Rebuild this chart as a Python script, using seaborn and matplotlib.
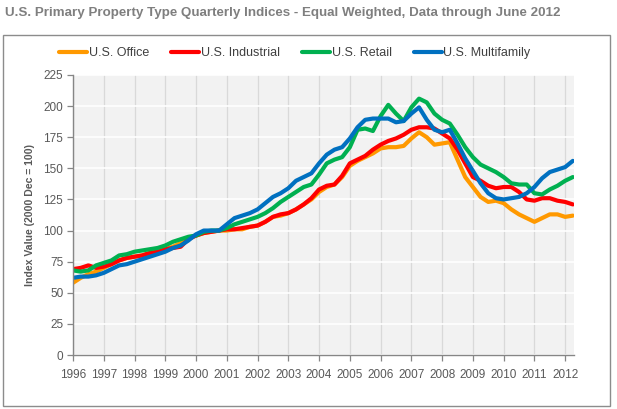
import numpy as np
import pandas as pd
import seaborn as sns
import matplotlib.pyplot as plt
from matplotlib.patches import Rectangle

# quarterly index values, 1996 Q1 .. 2012 Q2 (66 quarters)
office = [58, 62, 65, 67, 70, 73, 76, 78, 79, 80, 82, 83, 85, 87, 90, 94,
          96, 98, 99, 100, 100, 101, 101, 103, 104, 107, 111, 112, 114, 117, 121, 125,
          131, 135, 137, 143, 152, 156, 159, 162, 166, 167, 167, 168, 174, 179, 175, 169,
          170, 171, 157, 143, 135, 127, 123, 124, 122, 117, 113, 110, 107, 110, 113, 113,
          111, 112]
industrial = [69, 70, 72, 70, 71, 73, 76, 78, 79, 80, 82, 83, 85, 86, 87, 93,
              96, 98, 99, 100, 101, 101, 102, 103, 104, 107, 111, 113, 114, 117, 121, 126,
              133, 136, 137, 144, 154, 157, 160, 165, 169, 172, 174, 177, 181, 183, 183, 182,
              178, 174, 165, 154, 143, 140, 136, 134, 135, 135, 131, 125, 124, 126, 126, 124,
              123, 121]
retail = [68, 67, 68, 72, 74, 76, 80, 81, 83, 84, 85, 86, 88, 91, 93, 95,
          96, 99, 100, 100, 102, 105, 107, 109, 111, 114, 118, 123, 127, 131, 135, 137,
          145, 154, 157, 159, 167, 181, 182, 180, 192, 201, 194, 188, 199, 206, 203, 194,
          189, 186, 177, 167, 159, 153, 150, 147, 143, 138, 137, 137, 130, 129, 133, 136,
          140, 143]
multifamily = [62, 63, 63, 64, 66, 69, 72, 73, 75, 77, 79, 81, 83, 86, 88, 92,
               97, 100, 100, 100, 105, 110, 112, 114, 117, 122, 127, 130, 134, 140, 143, 146,
               154, 161, 165, 167, 174, 183, 189, 190, 190, 190, 187, 188, 194, 199, 189, 181,
               179, 181, 170, 158, 148, 138, 130, 126, 125, 126, 127, 130, 135, 142, 147, 149,
               151, 156]

series_names = ["U.S. Office", "U.S. Industrial", "U.S. Retail", "U.S. Multifamily"]
series_colors = ["#FF9900", "#FF0000", "#00B050", "#0070C0"]
years = list(range(1996, 2013))

quarter = np.arange(len(office))
df = pd.DataFrame({"q": quarter, "U.S. Office": office, "U.S. Industrial": industrial,
                   "U.S. Retail": retail, "U.S. Multifamily": multifamily})
long_df = df.melt(id_vars="q", var_name="series", value_name="value")

sns.set_theme(style="white")
plt.rcParams['font.family'] = ['Liberation Sans', 'DejaVu Sans']

fig = plt.figure(figsize=(6.17, 4.09), dpi=100)
ax = fig.add_axes([73 / 617, 1 - 355 / 409, 501 / 617, 280 / 409])

# outer chart frame
fig.patches.append(Rectangle((3 / 617, 1 - 406 / 409), 607 / 617, 371 / 409,
                             transform=fig.transFigure, fill=False,
                             edgecolor="#8c8c8c", linewidth=1.0))

ax.set_facecolor("#F2F2F2")
sns.lineplot(data=long_df, x="q", y="value", hue="series", hue_order=series_names,
             palette=series_colors, linewidth=3.0, ax=ax, legend=False)

ax.set_xlim(0, 65.15)
ax.set_ylim(0, 225)
ax.set_xticks(np.arange(0, 65, 4))
ax.set_xticklabels([str(y) for y in years])
ax.set_yticks(np.arange(0, 226, 25))

ax.grid(axis="y", color="white", linewidth=1.2)
ax.grid(axis="x", color="#D9D9D9", linewidth=0.9)
ax.set_axisbelow(True)

for s in ["top", "right"]:
    ax.spines[s].set_visible(False)
for s in ["left", "bottom"]:
    ax.spines[s].set_color("#868686")
    ax.spines[s].set_linewidth(1.0)

ax.tick_params(axis="both", which="major", direction="out", length=4, width=0.9,
               color="#868686", labelcolor="#595959", labelsize=8.5, pad=3,
               bottom=True, left=True)
ax.tick_params(axis="x", pad=6)

ax.set_xlabel("")
ax.set_ylabel("Index Value (2000 Dec = 100)", fontsize=7.6, fontweight="bold",
              color="#595959", labelpad=6)

# legend
handles = [plt.Line2D([], [], color=c, linewidth=3.0) for c in series_colors]
fig.legend(handles, series_names, loc="center", bbox_to_anchor=(0.478, 1 - 53 / 409),
           ncol=4, frameon=False, fontsize=9, handlelength=2.2, handletextpad=0.15,
           columnspacing=1.8, labelcolor="#404040")

fig.text(5 / 617, 1 - 13 / 409,
         "U.S. Primary Property Type Quarterly Indices - Equal Weighted, Data through June 2012",
         fontsize=9.6, fontweight="bold", color="#7F7F7F", ha="left", va="center")

fig.savefig("out.png", dpi=100)
